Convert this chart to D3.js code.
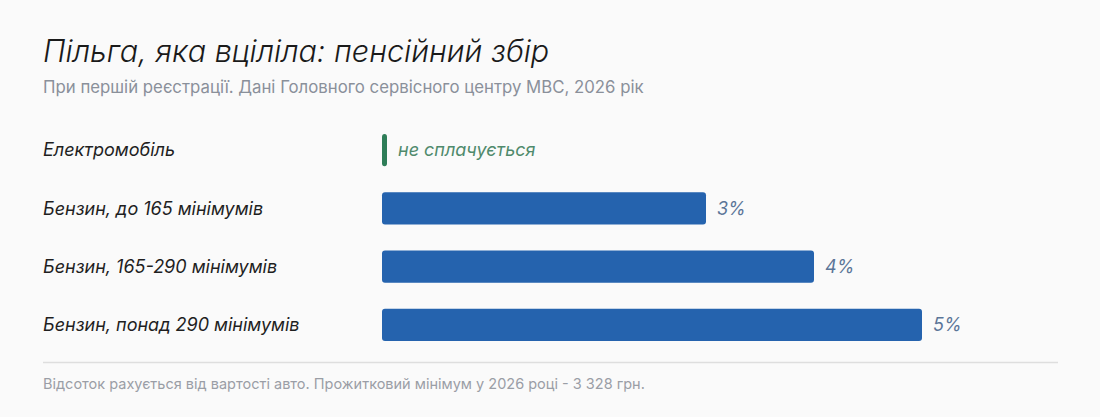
<!DOCTYPE html>
<html>
<head>
<meta charset="utf-8">
<script src="https://cdn.jsdelivr.net/npm/d3@7.9.0/dist/d3.min.js"></script>
<style>
  html, body { margin: 0; padding: 0; background: #fafafa; }
  svg { display: block; font-family: Inter, 'Liberation Sans', Arial, sans-serif; }
</style>
</head>
<body>
<div id="chart"></div>
<script>
const categories = [
  'Електромобіль',
  'Бензин, до 165 мінімумів',
  'Бензин, 165-290 мінімумів',
  'Бензин, понад 290 мінімумів',
];
const values = [0, 3, 4, 5];
const valueLabels = ['не сплачується', '3%', '4%', '5%'];

const title = 'Пільга, яка вціліла: пенсійний збір';
const subtitle = 'При першій реєстрації. Дані Головного сервісного центру МВС, 2026 рік';
const footnote = 'Відсоток рахується від вартості авто. Прожитковий мінімум у 2026 році - 3 328 грн.';

const width = 1100;
const height = 417;
const margin = { left: 43, right: 42 };
const barLeft = 382;

const svg = d3.select('#chart')
  .append('svg')
  .attr('width', width)
  .attr('height', height);

svg.append('rect')
  .attr('width', width)
  .attr('height', height)
  .attr('fill', '#fafafa');

svg.append('text')
  .attr('x', margin.left)
  .attr('y', 62)
  .attr('font-size', 30.5)
  .attr('font-style', 'italic')
  .attr('font-weight', 300)
  .attr('fill', '#1a1a1a')
  .text(title);

svg.append('text')
  .attr('x', margin.left)
  .attr('y', 93)
  .attr('font-size', 16.8)
  .attr('fill', '#8a909a')
  .text(subtitle);

const x = d3.scaleLinear()
  .domain([0, 5])
  .range([barLeft, 922]);

const y = d3.scaleBand()
  .domain(categories)
  .range([121, 354])
  .paddingInner(0.45)
  .paddingOuter(0.225);

const rows = svg.append('g')
  .selectAll('g')
  .data(categories)
  .join('g')
  .attr('transform', (d) => `translate(0, ${y(d)})`);

rows.append('text')
  .attr('x', margin.left)
  .attr('y', y.bandwidth() / 2)
  .attr('dy', '0.35em')
  .attr('font-size', 18)
  .attr('font-style', 'italic')
  .attr('fill', '#1f1f1f')
  .text((d) => d);

rows.append('rect')
  .attr('x', x(0))
  .attr('y', 0)
  .attr('width', (d, i) => values[i] === 0 ? 5 : x(values[i]) - x(0))
  .attr('height', y.bandwidth())
  .attr('rx', 3)
  .attr('fill', (d, i) => values[i] === 0 ? '#2e7d58' : '#2563ae');

rows.append('text')
  .attr('x', (d, i) => (values[i] === 0 ? x(0) + 5 : x(values[i])) + 11)
  .attr('y', y.bandwidth() / 2)
  .attr('dy', '0.35em')
  .attr('font-size', 18)
  .attr('font-style', 'italic')
  .attr('fill', (d, i) => values[i] === 0 ? '#4f8a6c' : '#5b7598')
  .text((d, i) => valueLabels[i]);

svg.append('line')
  .attr('x1', margin.left)
  .attr('x2', width - margin.right)
  .attr('y1', 362.5)
  .attr('y2', 362.5)
  .attr('stroke', '#dedede')
  .attr('stroke-width', 1.5);

svg.append('text')
  .attr('x', margin.left)
  .attr('y', 389)
  .attr('font-size', 14.5)
  .attr('fill', '#9a9ea6')
  .text(footnote);
</script>
</body>
</html>
